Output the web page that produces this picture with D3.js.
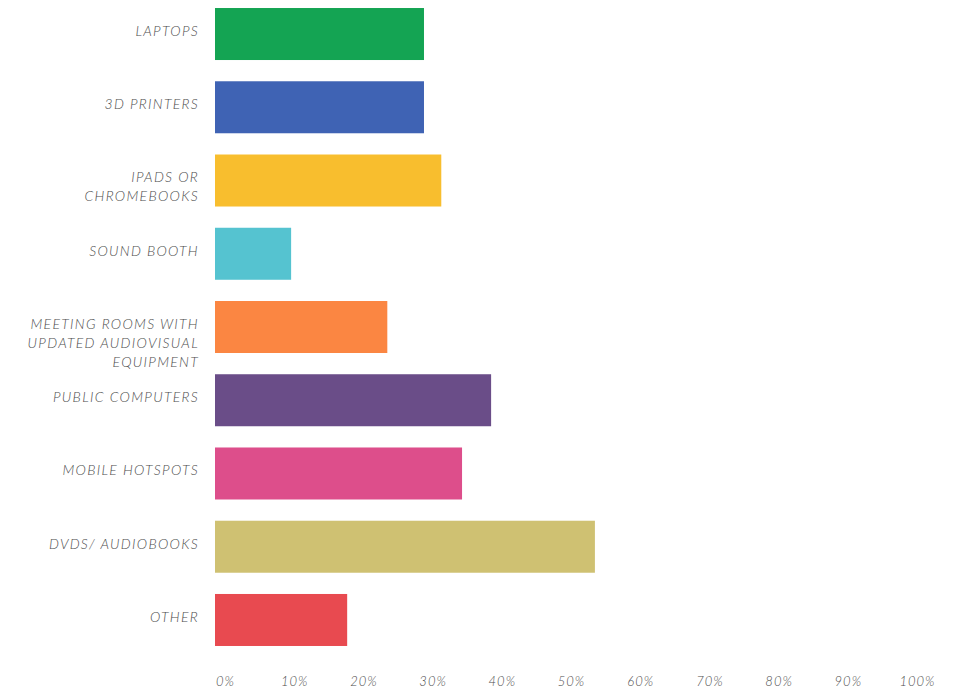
<!DOCTYPE html>
<html>
    <head>
        <meta charset="utf-8">
        <style>
            body { margin: 0; background: #fff; }
            text { font-family: Lato, "Open Sans", sans-serif; font-style: italic; }
        </style>
    </head>
    <body>
        <svg width="953" height="689"></svg>
        <script src="https://d3js.org/d3.v7.min.js"></script>
        <script>

            var categories = [
                ["LAPTOPS"],
                ["3D PRINTERS"],
                ["IPADS OR", "CHROMEBOOKS"],
                ["SOUND BOOTH"],
                ["MEETING ROOMS WITH", "UPDATED AUDIOVISUAL", "EQUIPMENT"],
                ["PUBLIC COMPUTERS"],
                ["MOBILE HOTSPOTS"],
                ["DVDS/ AUDIOBOOKS"],
                ["OTHER"]
            ];
            var values = [30.2, 30.2, 32.7, 11.0, 24.9, 39.9, 35.7, 54.9, 19.1];
            var colors = ["#14a453", "#3f63b4", "#f8be2e", "#55c3d0", "#fb8642",
                          "#6a4d88", "#dd4e8b", "#cfc172", "#e84a50"];
            var ticks = [0, 10, 20, 30, 40, 50, 60, 70, 80, 90, 100];

            function translator(x, y){
                return 'translate(' + x + ',' + y + ')';
            }

            var svg = d3.select('svg');

            var x = d3.scaleLinear()
                .domain([0, 100])
                .range([215, 907]);

            var y = d3.scaleBand()
                .domain(d3.range(categories.length))
                .range([-2.6, 656.6])
                .paddingInner(0.29)
                .paddingOuter(0.145);

            // bars
            svg.append('g').selectAll('rect')
                .data(values)
                .enter().append('rect')
                .attr('x', x(0))
                .attr('y', function(d, i){ return y(i); })
                .attr('width', function(d){ return x(d) - x(0); })
                .attr('height', y.bandwidth())
                .attr('fill', function(d, i){ return colors[i]; });

            // category labels, first line sits a bit above bar centre
            var labels = svg.append('g').selectAll('text')
                .data(categories)
                .enter().append('text')
                .attr('text-anchor', 'end')
                .attr('fill', '#4d4d4d')
                .attr('font-size', 14)
                .attr('font-weight', 300)
                .attr('letter-spacing', 1.3)
                .attr('transform', function(d, i){
                    return translator(199, y(i) + y.bandwidth() / 2 - 3);
                });

            labels.selectAll('tspan')
                .data(function(d){ return d; })
                .enter().append('tspan')
                .attr('x', 0)
                .attr('dy', function(d, j){ return j === 0 ? '0.35em' : 19; })
                .text(function(d){ return d; });

            // bottom axis, no line or ticks
            var axis = d3.axisBottom(x)
                .tickValues(ticks)
                .tickSize(0)
                .tickPadding(0)
                .tickFormat(function(d){ return d + '%'; });

            var ax = svg.append('g')
                .attr('transform', translator(10, 677))
                .call(axis);
            ax.select('.domain').remove();
            ax.selectAll('text')
                .attr('fill', '#4d4d4d')
                .attr('font-size', 13)
                .attr('font-weight', 300)
                .attr('letter-spacing', 1)
                .style('font-family', 'Lato, "Open Sans", sans-serif')
                .style('font-style', 'italic');

        </script>
    </body>
</html>
